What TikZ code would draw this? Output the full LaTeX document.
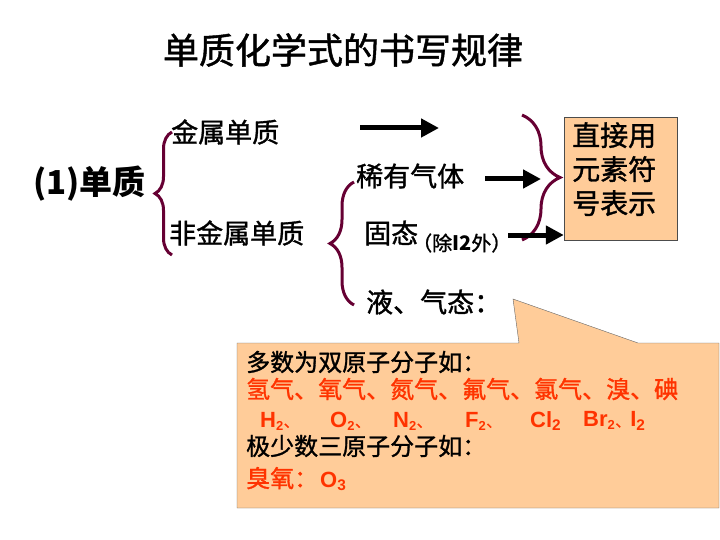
\documentclass[tikz,border=0pt]{standalone}
\usepackage{fontspec}
\setmainfont{Noto Sans CJK SC}[UprightFeatures={FakeBold=1.2}]
\newfontfamily\arial{Liberation Sans}
\usetikzlibrary{arrows.meta, decorations.pathreplacing}
\definecolor{bracecol}{HTML}{660033}
\definecolor{peach}{HTML}{FFCC99}
\definecolor{redtxt}{HTML}{FF3300}
\newcommand{\dun}{{\rmfamily\mdseries\fontsize{15}{15}\selectfont 、}}
\newcommand{\sm}[1]{\textsubscript{\fontsize{13}{13}\selectfont #1}}
\tikzset{
  curly/.style={draw=bracecol, line width=3pt, decorate, decoration={brace, amplitude=#1}},
  fatarrow/.style={line width=5pt, -{Triangle[length=18pt,width=18pt]}},
  txt/.style={anchor=west, inner sep=0pt, font=\fontsize{27}{30}\selectfont},
  calltxt/.style={anchor=west, inner sep=0pt, font=\fontsize{24}{26}\selectfont},
  formula/.style={anchor=west, inner sep=0pt, text=redtxt, font=\arial\bfseries\fontsize{22}{24}\selectfont}
}
\begin{document}
\begin{tikzpicture}[x=1pt,y=-1pt]
  \useasboundingbox (0,0) rectangle (720,540);
  \node (title) at (343,50) {\fontsize{36}{40}\selectfont 单质化学式的书写规律};

  \node[txt, font=\bfseries\fontsize{33}{36}\selectfont] (danzhi) at (33,184) {(1)单质};
  \node[txt] (metal) at (171,132) {金属单质};
  \node[txt] (nonmetal) at (169,233) {非金属单质};
  \node[txt] (noble) at (356,176) {稀有气体};
  \node[txt] (solid) at (364,233) {固态};
  \node[anchor=west, inner sep=0pt, font=\fontsize{20}{22}\selectfont] (except) at (412,243) {（除\textbf{I2}外）};
  \node[txt] (liquid) at (366,302) {液、气态：};

  % left braces drawn bottom to top
  \draw[curly=17pt] (172,255) -- (172,132);
  \draw[curly=24pt] (354,305) -- (354,182);
  \draw[curly=38pt] (522,115) -- (522,240);

  \node[draw=black!70, fill=peach, minimum width=113pt, minimum height=123pt, inner sep=0pt] (box) at (620.5,178.5) {};
  \node[anchor=north west, inner sep=0pt, align=left, font=\fontsize{28}{34}\selectfont] (boxtxt) at (572,122) {直接用\\元素符\\号表示};

  \coordinate (a1s) at (360,128); \coordinate (a1e) at (439,128);
  \coordinate (a2s) at (485,179); \coordinate (a2e) at (541,179);
  \coordinate (a3s) at (508,235);
  \draw[fatarrow] (a1s) -- (a1e);
  \draw[fatarrow] (a2s) -- (a2e);
  \draw[fatarrow] (a3s) -- (box.west |- a3s);

  % callout with pointer to the liquid/gas line
  \draw[draw=black!60, fill=peach] (237,343) -- (519,343) -- (513,299) -- (638,343) -- (719,343) -- (719,508) -- (237,508) -- cycle;
  \node[calltxt] (diatomic) at (246,362) {多数为双原子分子如：};
  \node[calltxt, text=redtxt] (gases) at (246,389) {氢气、氧气、氮气、氟气、氯气、溴、碘};
  \foreach \x/\f [count=\i] in {260/H\sm{2}\dun, 330/O\sm{2}\dun, 393/N\sm{2}\dun, 465/F\sm{2}\dun, 530/Cl\textsubscript{2}, 583/Br\sm{2}\dun I\textsubscript{2}}
    \node[formula] (f\i) at (\x,421) {\f};
  \node[calltxt] (triatomic) at (246,446) {极少数三原子分子如：};
  \node[calltxt, text=redtxt] (ozone) at (246,479) {臭氧：\hspace{2pt}{\arial\bfseries\fontsize{22}{24}\selectfont O\textsubscript{3}}};
\end{tikzpicture}
\end{document}
